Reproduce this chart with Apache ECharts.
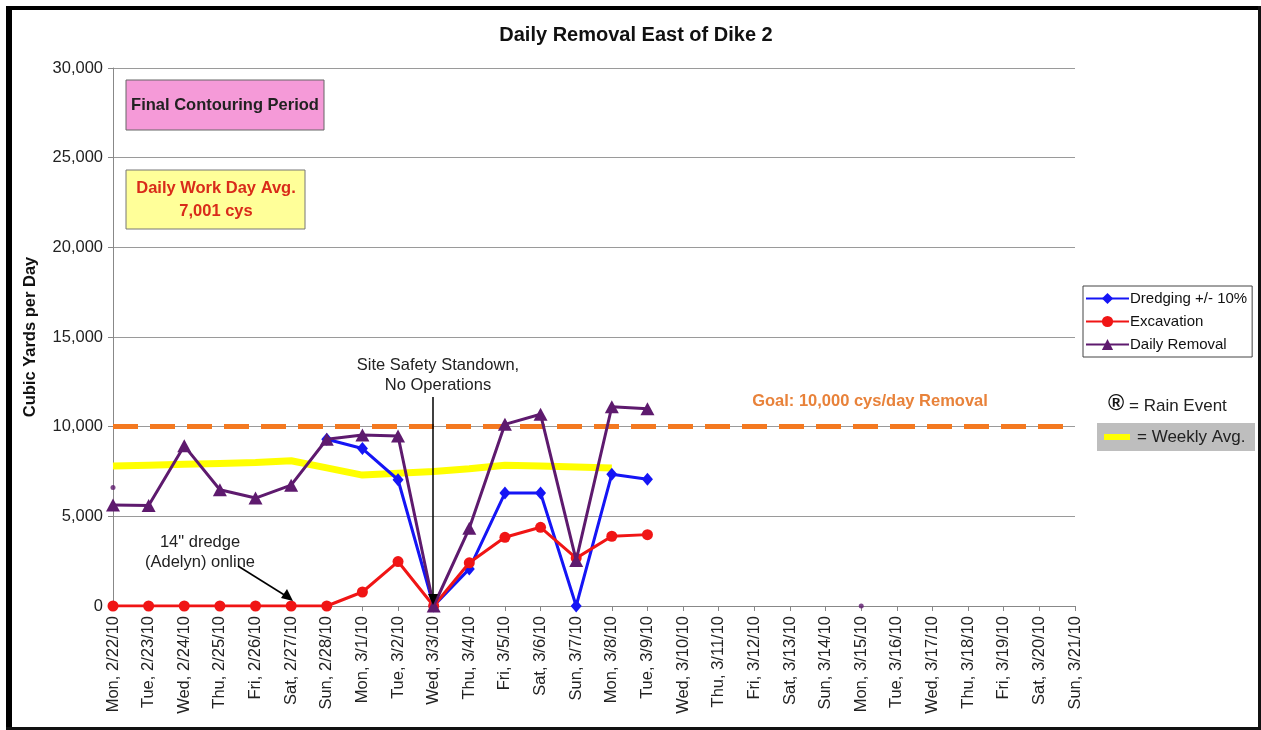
<!DOCTYPE html>
<html>
<head>
<meta charset="utf-8">
<script src="https://cdn.jsdelivr.net/npm/echarts@6/dist/echarts.min.js"></script>
<style>
html,body{margin:0;padding:0;background:#fff;}
#chart{width:1261px;height:730px;}
</style>
</head>
<body>
<div id="chart"></div>
<script>
const categories = [
  'Mon, 2/22/10','Tue, 2/23/10','Wed, 2/24/10','Thu, 2/25/10','Fri, 2/26/10','Sat, 2/27/10','Sun, 2/28/10',
  'Mon, 3/1/10','Tue, 3/2/10','Wed, 3/3/10','Thu, 3/4/10','Fri, 3/5/10','Sat, 3/6/10','Sun, 3/7/10',
  'Mon, 3/8/10','Tue, 3/9/10','Wed, 3/10/10','Thu, 3/11/10','Fri, 3/12/10','Sat, 3/13/10','Sun, 3/14/10',
  'Mon, 3/15/10','Tue, 3/16/10','Wed, 3/17/10','Thu, 3/18/10','Fri, 3/19/10','Sat, 3/20/10','Sun, 3/21/10'
];
const dredging   = [null,null,null,null,null,null,9300,8780,7040,0,2070,6300,6300,0,7350,7070];
const excavation = [0,0,0,0,0,0,0,780,2480,0,2410,3830,4390,2670,3890,3980];
const dailyRemoval = [5630,5600,8930,6480,6020,6740,9300,9540,9480,0,4330,10130,10690,2540,11110,11000];
const weeklyAvg  = [7800,7850,7900,7950,8000,8100,7700,7300,7400,7500,7650,7850,7800,7750,7700];
const extraDots  = [[0,6610],[21,0]];
const goal = 10000;

const FONT = '"Liberation Sans", Arial, sans-serif';
const FS = 16.5;
const chart = echarts.init(document.getElementById('chart'));

const option = {
  backgroundColor: '#fff',
  animation: false,
  textStyle: { fontFamily: FONT },
  title: {
    text: 'Daily Removal East of Dike 2',
    left: 631, top: 20, textAlign: 'center',
    textStyle: { fontFamily: FONT, fontSize: 20, fontWeight: 'bold', color: '#111' }
  },
  grid: { left: 113, right: 186, top: 68, bottom: 124, containLabel: false },
  legend: {
    orient: 'vertical', left: 1083, top: 286,
    padding: [5, 5, 5, 2], itemGap: 8, itemWidth: 43, itemHeight: 14,
    borderColor: '#444', borderWidth: 1,
    data: ['Dredging +/- 10%', 'Excavation', 'Daily Removal'],
    textStyle: { fontFamily: FONT, fontSize: 15, color: '#111', padding: [0,0,0,-4] }
  },
  xAxis: {
    type: 'category', data: categories, boundaryGap: false,
    axisLine: { lineStyle: { color: '#888', width: 1 } },
    axisTick: { show: true, length: 5, lineStyle: { color: '#888' }, alignWithLabel: true },
    axisLabel: { rotate: 90, interval: 0, fontSize: FS, color: '#222', fontFamily: FONT, margin: 10 }
  },
  yAxis: {
    type: 'value', min: 0, max: 30000, interval: 5000,
    name: 'Cubic Yards per Day', nameLocation: 'middle', nameGap: 74,
    nameTextStyle: { fontFamily: FONT, fontSize: FS, fontWeight: 'bold', color: '#111' },
    axisLine: { show: true, lineStyle: { color: '#888' } },
    axisTick: { show: true, length: 5, lineStyle: { color: '#888' } },
    axisLabel: { fontSize: FS, color: '#222', fontFamily: FONT, margin: 10,
      formatter: v => v.toLocaleString('en-US') },
    splitLine: { show: true, lineStyle: { color: '#9a9a9a', width: 1 } }
  },
  series: [
    {
      name: 'Weekly Avg.', type: 'line', data: weeklyAvg, symbol: 'none', z: 1,
      lineStyle: { color: '#FFFF00', width: 7 }, itemStyle: { color: '#FFFF00' },
      markLine: {
        silent: true, symbol: 'none', label: { show: false },
        lineStyle: { color: '#F47920', width: 5, type: [25, 12] },
        data: [{ yAxis: goal }]
      }
    },
    {
      name: 'Dredging +/- 10%', type: 'line', data: dredging, z: 3,
      symbol: 'diamond', symbolSize: [11, 13],
      lineStyle: { color: '#1515F5', width: 3 }, itemStyle: { color: '#1515F5' }
    },
    {
      name: 'Excavation', type: 'line', data: excavation, z: 4,
      symbol: 'circle', symbolSize: 11,
      lineStyle: { color: '#F01515', width: 3 }, itemStyle: { color: '#F01515' }
    },
    {
      name: 'Daily Removal', type: 'line', data: dailyRemoval, z: 5,
      symbol: 'triangle', symbolSize: [14, 13],
      lineStyle: { color: '#5E1A6E', width: 3 }, itemStyle: { color: '#5E1A6E' }
    },
    {
      name: 'dots', type: 'scatter', data: extraDots, z: 5,
      symbol: 'circle', symbolSize: 5, itemStyle: { color: '#5E1A6E' }
    }
  ],
  graphic: [
    // outer frame
    { type: 'rect', shape: { x: 6, y: 6, width: 6, height: 724 }, style: { fill: '#000' }, z: 100 },
    { type: 'rect', shape: { x: 6, y: 6, width: 1255, height: 4 }, style: { fill: '#000' }, z: 100 },
    { type: 'rect', shape: { x: 1258, y: 6, width: 3, height: 724 }, style: { fill: '#111' }, z: 100 },
    { type: 'rect', shape: { x: 6, y: 727, width: 1255, height: 3 }, style: { fill: '#111' }, z: 100 },
    // pink box
    { type: 'rect', shape: { x: 126, y: 80, width: 198, height: 50 },
      style: { fill: '#F59AD8', stroke: '#666', lineWidth: 1 }, z: 50 },
    { type: 'text', x: 225, y: 105, z: 51,
      style: { text: 'Final Contouring Period', fill: '#222', font: 'bold ' + FS + 'px ' + FONT,
        textAlign: 'center', textVerticalAlign: 'middle' } },
    // yellow box
    { type: 'rect', shape: { x: 126, y: 170, width: 179, height: 59 },
      style: { fill: '#FFFF99', stroke: '#777', lineWidth: 1 }, z: 50 },
    { type: 'text', x: 216, y: 188, z: 51,
      style: { text: 'Daily Work Day Avg.', fill: '#D92B1A', font: 'bold ' + FS + 'px ' + FONT,
        textAlign: 'center', textVerticalAlign: 'middle' } },
    { type: 'text', x: 216, y: 211, z: 51,
      style: { text: '7,001 cys', fill: '#D92B1A', font: 'bold ' + FS + 'px ' + FONT,
        textAlign: 'center', textVerticalAlign: 'middle' } },
    // goal label
    { type: 'text', x: 870, y: 401, z: 51,
      style: { text: 'Goal: 10,000 cys/day Removal', fill: '#E8823A', font: 'bold ' + FS + 'px ' + FONT,
        textAlign: 'center', textVerticalAlign: 'middle' } },
    // standown annotation
    { type: 'text', x: 438, y: 365, z: 51,
      style: { text: 'Site Safety Standown,', fill: '#222', font: FS + 'px ' + FONT,
        textAlign: 'center', textVerticalAlign: 'middle' } },
    { type: 'text', x: 438, y: 385, z: 51,
      style: { text: 'No Operations', fill: '#222', font: FS + 'px ' + FONT,
        textAlign: 'center', textVerticalAlign: 'middle' } },
    { type: 'line', z: 60, shape: { x1: 433, y1: 397, x2: 433, y2: 598 },
      style: { stroke: '#000', lineWidth: 1.5 } },
    { type: 'polygon', z: 60, shape: { points: [[428, 594], [438, 594], [433, 605]] },
      style: { fill: '#000' } },
    // dredge annotation
    { type: 'text', x: 200, y: 542, z: 51,
      style: { text: '14" dredge', fill: '#222', font: FS + 'px ' + FONT,
        textAlign: 'center', textVerticalAlign: 'middle' } },
    { type: 'text', x: 200, y: 562, z: 51,
      style: { text: '(Adelyn) online', fill: '#222', font: FS + 'px ' + FONT,
        textAlign: 'center', textVerticalAlign: 'middle' } },
    { type: 'line', z: 60, shape: { x1: 238, y1: 566, x2: 286, y2: 596 },
      style: { stroke: '#000', lineWidth: 1.5 } },
    { type: 'polygon', z: 60, shape: { points: [[281, 598], [287, 589], [293, 601]] },
      style: { fill: '#000' } },
    // rain event
    { type: 'text', x: 1116, y: 404, z: 51,
      style: { text: '®', fill: '#111', font: 'bold 22px ' + FONT,
        textAlign: 'center', textVerticalAlign: 'middle' } },
    { type: 'text', x: 1129, y: 406, z: 51,
      style: { text: '= Rain Event', fill: '#222', font: '17px ' + FONT,
        textAlign: 'left', textVerticalAlign: 'middle' } },
    // weekly avg key
    { type: 'rect', shape: { x: 1097, y: 423, width: 158, height: 28 },
      style: { fill: '#BEBEBE' }, z: 50 },
    { type: 'line', z: 51, shape: { x1: 1104, y1: 437, x2: 1130, y2: 437 },
      style: { stroke: '#FFFF00', lineWidth: 6 } },
    { type: 'text', x: 1137, y: 437, z: 51,
      style: { text: '= Weekly Avg.', fill: '#222', font: '17px ' + FONT,
        textAlign: 'left', textVerticalAlign: 'middle' } }
  ]
};
chart.setOption(option);
</script>
</body>
</html>
